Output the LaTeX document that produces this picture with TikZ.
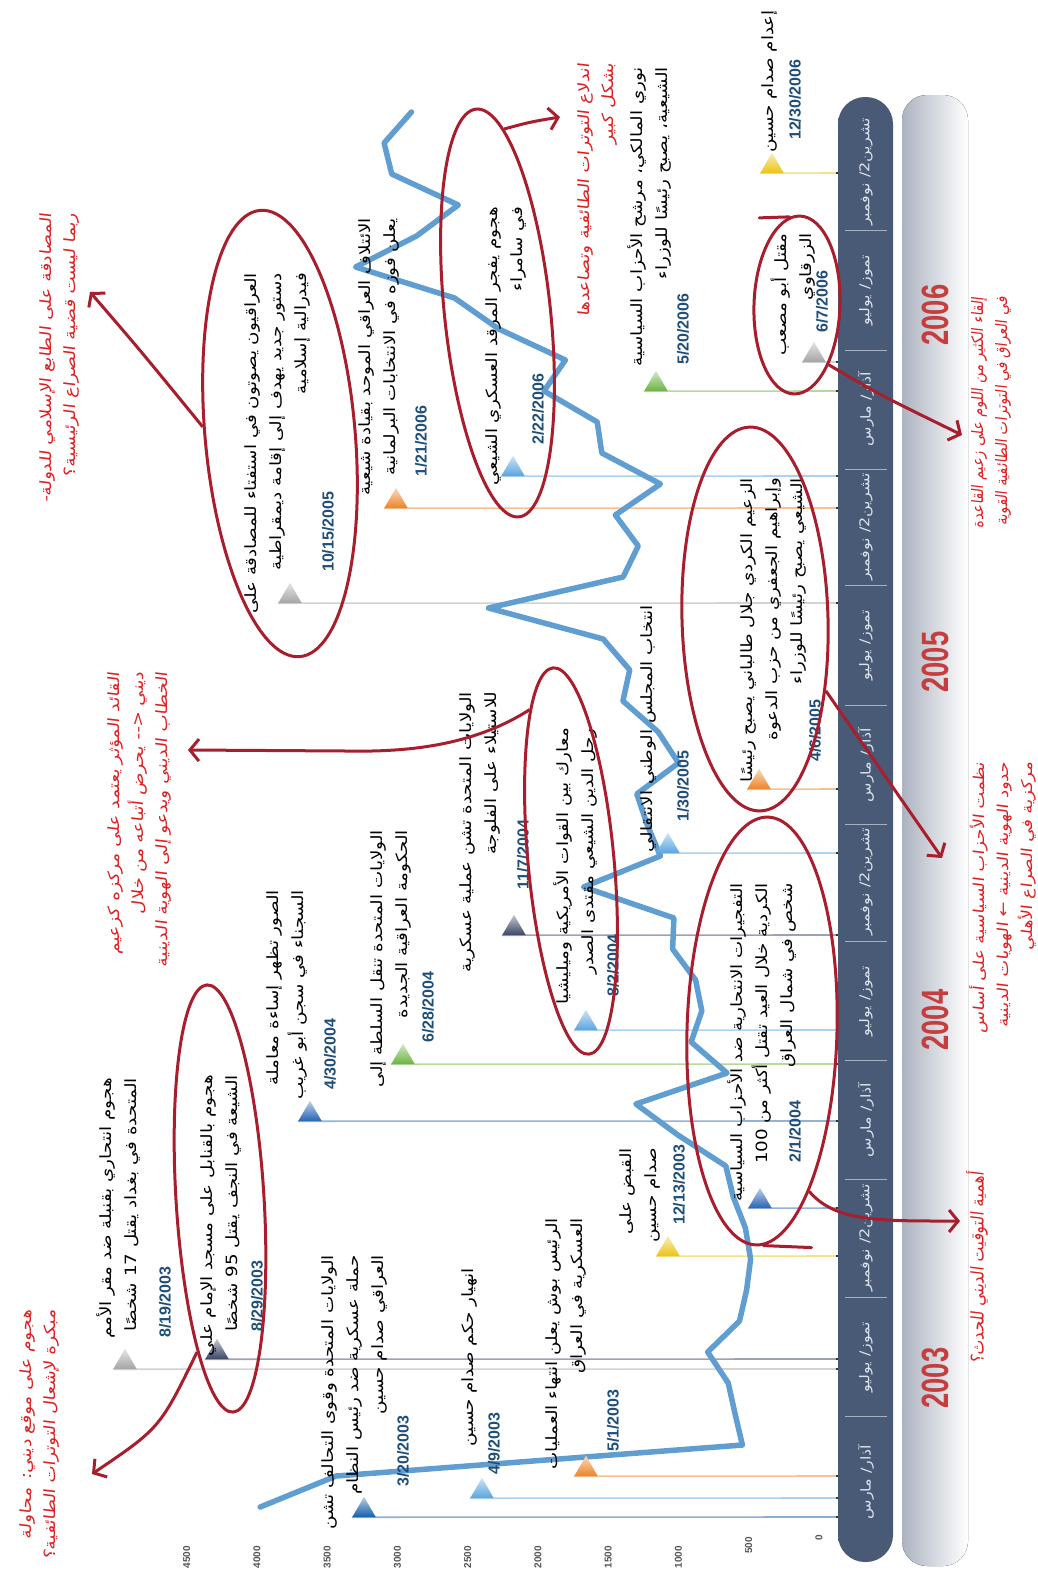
\documentclass[tikz,border=0pt]{standalone}
\usepackage{fontspec}
\setmainfont{Liberation Sans}
\newfontfamily\arf[Script=Arabic,FakeStretch=1.18]{DejaVu Sans}
\newfontfamily\annf[Script=Arabic,FakeSlant=0.12,FakeStretch=1.18]{DejaVu Sans}
\newfontfamily\annfc[Script=Arabic,FakeSlant=0.12,FakeStretch=0.9]{DejaVu Sans}
\newfontfamily\yrf[FakeStretch=0.72]{Liberation Sans}
\usetikzlibrary{shapes.geometric,arrows.meta}
\TeXXeTstate=1
\newcommand\RL[1]{\beginR #1\endR}
\pgfdeclarelayer{bg}\pgfdeclarelayer{mid}\pgfsetlayers{bg,mid,main}
\definecolor{barD}{RGB}{72,90,118}
\definecolor{barM}{RGB}{92,112,141}
\definecolor{shadL}{RGB}{172,179,192}
\definecolor{monc}{RGB}{222,228,238}
\definecolor{datec}{RGB}{31,78,121}
\definecolor{ellc}{RGB}{168,30,45}
\definecolor{annc}{RGB}{222,32,32}
\definecolor{yrc}{RGB}{196,62,62}
\definecolor{axc}{RGB}{85,85,85}
\definecolor{linec}{RGB}{96,158,210}
\definecolor{cDark}{RGB}{20,95,170}
\definecolor{cLight}{RGB}{90,165,222}
\definecolor{cBlue}{RGB}{40,100,180}
\definecolor{cOr}{RGB}{236,132,40}
\definecolor{cGr}{RGB}{165,165,165}
\definecolor{cNavy}{RGB}{60,70,102}
\definecolor{cYel}{RGB}{236,196,20}
\definecolor{cGreen}{RGB}{105,180,65}
\begin{document}
\begin{tikzpicture}[x=1pt,y=-1pt,
 lab/.style={rotate=90, anchor=east, align=right, inner sep=0pt, font=\fontsize{15.5}{25}\arf},
 dt/.style={rotate=90, anchor=west, inner sep=0pt, text=datec, font=\fontsize{16}{16}\selectfont\bfseries},
 ann/.style={rotate=90, anchor=east, align=right, inner sep=0pt, text=annc, font=\fontsize{#1}{24}\annf},
 ann/.default=15.5,
 annc/.style={rotate=90, anchor=east, align=right, inner sep=0pt, text=annc, font=\fontsize{#1}{24}\annfc},
 mon/.style={rotate=90, inner sep=0pt, text=monc, font=\fontsize{13.5}{13.5}\arf},
 yr/.style={rotate=90, inner sep=0pt, text=yrc, font=\fontsize{38}{38}\yrf\bfseries},
 ax/.style={rotate=90, anchor=east, inner sep=0pt, text=axc, font=\fontsize{10}{10}\selectfont\bfseries},
 tri/.style={regular polygon, regular polygon sides=3, minimum size=27pt, inner sep=0pt, draw=none, top color=#1!30!white, bottom color=#1},
 evl/.style={draw=#1!50!white, line width=1.6pt},
 ell/.style={ellipse, draw=ellc, line width=3pt, inner sep=0pt},
 rarr/.style={draw=ellc, line width=3pt, -{Straight Barb[length=9pt,width=22pt]}},
 tail/.style={draw=ellc, line width=3pt, line cap=round},
 barsep/.style={draw=barM!55!white, line width=0.8pt},
 dataline/.style={draw=linec, line width=5.5pt, line join=round, line cap=round}]
\useasboundingbox (0,0) rectangle (1038,1579);
\begin{pgfonlayer}{bg}
\fill[white] (0,0) rectangle (1038,1579);
\end{pgfonlayer}

% ---------- timeline bar ----------
\fill[left color=shadL, right color=white, rounded corners=25pt] (902,95) rectangle (968,1566);
\node[rounded corners=27pt, minimum width=55pt, minimum height=1465pt, inner sep=0pt,
      left color=barD, middle color=barM, right color=barD] (bar) at (865.5,829.5) {};
\foreach \s in {1416.8,1297.1,1179.3,1060.6,940.9,824.1,705.3,585.6,468.9,350.1,230.4}
  \draw[barsep] (845,\s) -- (887,\s);
\node[mon] (mon1) at (866,1482) {\RL{آذار/ مارس}};
\node[mon] (mon2) at (866,1357) {\RL{تموز/ يوليو}};
\node[mon] (mon3) at (866,1238) {\RL{تشرين2/ نوفمبر}};
\node[mon] (mon4) at (866,1120) {\RL{آذار/ مارس}};
\node[mon] (mon5) at (866,1001) {\RL{تموز/ يوليو}};
\node[mon] (mon6) at (866,882) {\RL{تشرين2/ نوفمبر}};
\node[mon] (mon7) at (866,765) {\RL{آذار/ مارس}};
\node[mon] (mon8) at (866,645) {\RL{تموز/ يوليو}};
\node[mon] (mon9) at (866,527) {\RL{تشرين2/ نوفمبر}};
\node[mon] (mon10) at (866,409) {\RL{آذار/ مارس}};
\node[mon] (mon11) at (866,290) {\RL{تموز/ يوليو}};
\node[mon] (mon12) at (866,172) {\RL{تشرين2/ نوفمبر}};
\node[yr] (y2003) at (935,1378) {2003};
\node[yr] (y2004) at (935,1020) {2004};
\node[yr] (y2005) at (935,662) {2005};
\node[yr] (y2006) at (935,315) {2006};

% ---------- value axis ----------
\foreach \v/\yy in {0/1535,500/1537,1000/1546,1500/1546,2000/1546,2500/1546,3000/1546,3500/1546,4000/1546,4500/1546}
  \node[ax] (ax\v) at ({819-0.1405*\v},\yy) {\v};

% ---------- data line ----------
\begin{pgfonlayer}{mid}
\draw[dataline] (260.2,1507) -- (336.1,1476) -- (742.4,1445) -- (735.1,1414) -- (728.2,1383)
 -- (707.7,1352) -- (739.5,1321) -- (746.6,1290) -- (750.6,1259) -- (745.4,1228)
 -- (733.3,1197) -- (725.8,1166) -- (677.9,1135) -- (635.9,1104) -- (727.0,1073)
 -- (691.1,1042) -- (701.8,1011) -- (695.6,980) -- (672.6,949) -- (673.9,918)
 -- (583.5,887) -- (660.4,856) -- (647.3,825) -- (636.8,794) -- (678.5,763)
 -- (658.3,732) -- (622.9,701) -- (629.7,670) -- (603.2,639) -- (488.5,608)
 -- (623.1,577) -- (638.2,546) -- (615.3,515) -- (660.4,484) -- (601.8,453)
 -- (597.2,422) -- (544.0,391) -- (565.4,360) -- (498.8,329) -- (454.5,298)
 -- (355.6,267) -- (416.5,236) -- (458.3,205) -- (391.7,174) -- (384.1,143) -- (411.5,112);
\end{pgfonlayer}

% ---------- events: markers ----------
\node[tri=cDark]  (t1)  at (364,1510.25) {};
\node[tri=cLight] (t2)  at (482,1491.25) {};
\node[tri=cOr]    (t3)  at (586,1469.25) {};
\node[tri=cGr]    (t4)  at (125,1362.25) {};
\node[tri=cNavy]  (t5)  at (217,1352.25) {};
\node[tri=cYel]   (t6)  at (668,1249.25) {};
\node[tri=cBlue]  (t7)  at (760,1201.25) {};
\node[tri=cBlue]  (t8)  at (310,1114.25) {};
\node[tri=cGreen] (t9)  at (403,1057.25) {};
\node[tri=cLight] (t10) at (586,1023.25) {};
\node[tri=cNavy]  (t11) at (514,928.25) {};
\node[tri=cLight] (t12) at (668,846.25) {};
\node[tri=cOr]    (t13) at (759,782.25) {};
\node[tri=cGr]    (t14) at (290,596.25) {};
\node[tri=cOr]    (t15) at (396,501.25) {};
\node[tri=cLight] (t16) at (513,469.25) {};
\node[tri=cGreen] (t17) at (656,384.25) {};
\node[tri=cGr]    (t18) at (814,355.25) {};
\node[tri=cYel]   (t19) at (772,166.25) {};
\foreach \i/\yy in {1/1517,2/1498,3/1476,4/1369,5/1359,6/1256,7/1208,8/1121,9/1064,10/1030,
  11/935,12/853,13/789,14/603,15/508,16/476,17/391,18/362,19/173}
  \coordinate (b\i) at (838,\yy);
\begin{pgfonlayer}{bg}
\draw[evl=cDark] (t1.corner 2) -- (b1);
\draw[evl=cLight] (t2.corner 2) -- (b2);
\draw[evl=cOr] (t3.corner 2) -- (b3);
\draw[evl=cGr] (t4.corner 2) -- (b4);
\draw[evl=cNavy] (t5.corner 2) -- (b5);
\draw[evl=cYel] (t6.corner 2) -- (b6);
\draw[evl=cBlue] (t7.corner 2) -- (b7);
\draw[evl=cBlue] (t8.corner 2) -- (b8);
\draw[evl=cGreen] (t9.corner 2) -- (b9);
\draw[evl=cLight] (t10.corner 2) -- (b10);
\draw[evl=cNavy] (t11.corner 2) -- (b11);
\draw[evl=cLight] (t12.corner 2) -- (b12);
\draw[evl=cOr] (t13.corner 2) -- (b13);
\draw[evl=cGr] (t14.corner 2) -- (b14);
\draw[evl=cOr] (t15.corner 2) -- (b15);
\draw[evl=cLight] (t16.corner 2) -- (b16);
\draw[evl=cGreen] (t17.corner 2) -- (b17);
\draw[evl=cGr] (t18.corner 2) -- (b18);
\draw[evl=cYel] (t19.corner 2) -- (b19);
\foreach \i in {1,...,19} \fill[black!80] (b\i) ++(-2.5,-1) rectangle ++(3,2);
\end{pgfonlayer}

% ---------- events: texts ----------
\node[lab] (l1) at (354,1255) {\RL{الولايات المتحدة وقوى التحالف تشن}\\\RL{حملة عسكرية ضد رئيس النظام}\\\RL{العراقي صدام حسين}};
\node[dt] (d1) at (403,1487) {3/20/2003};
\node[lab] (l2) at (469,1268) {\RL{انهيار حكم صدام حسين}};
\node[dt] (d2) at (494,1475) {4/9/2003};
\node[lab] (l3) at (566,1218) {\RL{الرئيس بوش يعلن انتهاء العمليات}\\\RL{العسكرية في العراق}};
\node[dt] (d3) at (613,1452) {5/1/2003};
\node[lab] (l4) at (118,1078) {\RL{هجوم انتحاري بقنبلة ضد مقر الأمم}\\\RL{المتحدة في بغداد يقتل 17 شخصًا}};
\node[dt] (d4) at (165,1338) {8/19/2003};
\node[lab] (l5) at (221,1075) {\RL{هجوم بالقنابل على مسجد الإمام علي}\\\RL{الشيعة في النجف يقتل 95 شخصًا}};
\node[dt] (d5) at (257,1332) {8/29/2003};
\node[lab] (l6) at (640,1148) {\RL{القبض على}\\\RL{صدام حسين}};
\node[dt] (d6) at (679,1225) {12/13/2003};
\node[lab] (l7) at (762,883) {\RL{التفجيرات الانتحارية ضد الأحزاب السياسية}\\\RL{الكردية خلال العيد تقتل أكثر من 100}\\\RL{شخص في شمال العراق}};
\node[dt] (d7) at (795,1163) {2/1/2004};
\node[lab] (l8) at (287,890) {\RL{الصور تظهر إساءة معاملة}\\\RL{السجناء في سجن أبو غريب}};
\node[dt] (d8) at (330,1090) {4/30/2004};
\node[lab] (l9) at (391,830) {\RL{الولايات المتحدة تنقل السلطة إلى}\\\RL{الحكومة العراقية الجديدة}};
\node[dt] (d9) at (428,1043) {6/28/2004};
\node[lab] (l10) at (575,728) {\RL{معارك بين القوات الأمريكية وميليشيا}\\\RL{رجل الدين الشيعي مقتدى الصدر}};
\node[dt] (d10) at (613,997) {8/2/2004};
\node[lab] (l11) at (480,692) {\RL{الولايات المتحدة تشن عملية عسكرية}\\\RL{للاستيلاء على الفلوجة}};
\node[dt] (d11) at (523,890) {11/7/2004};
\node[lab] (l12) at (648,605) {\RL{انتخاب المجلس الوطني الانتقالي}};
\node[dt] (d12) at (683,822) {1/30/2005};
\node[lab] (l13) at (773,478) {\RL{الزعيم الكردي جلال طالباني يصبح رئيسًا}\\\RL{وإبراهيم الجعفري من حزب الدعوة}\\\RL{الشيعي يصبح رئيسًا للوزراء}};
\node[dt] (d13) at (815,762) {4/6/2005};
\node[lab] (l14) at (277,273) {\RL{العراقيون يصوتون في استفتاء للمصادقة على}\\\RL{دستور جديد يهدف إلى إقامة ديمقراطية}\\\RL{فيدرالية إسلامية}};
\node[dt] (d14) at (328,572) {10/15/2005};
\node[lab] (l15) at (379,218) {\RL{الائتلاف العراقي الموحد بقيادة شيعية}\\\RL{يعلن فوزه في الانتخابات البرلمانية}};
\node[dt] (d15) at (421,477) {1/21/2006};
\node[lab] (l16) at (506,207) {\RL{هجوم يفجر المرقد العسكري الشيعي}\\\RL{في سامراء}};
\node[dt] (d16) at (538,445) {2/22/2006};
\node[lab] (l17) at (649,67) {\RL{نوري المالكي، مرشح الأحزاب السياسية}\\\RL{الشيعية، يصبح رئيسًا للوزراء}};
\node[dt] (d17) at (683,365) {5/20/2006};
\node[lab] (l18) at (793,233) {\RL{مقتل أبو مصعب}\\\RL{الزرقاوي}};
\node[dt] (d18) at (822,333) {6/7/2006};
\node[lab] (l19) at (769,10) {\RL{إعدام صدام حسين}};
\node[dt] (d19) at (795,140) {12/30/2006};

% ---------- red annotations ----------
\node[ell, minimum width=88pt, minimum height=428pt, rotate=3.5] (ellA) at (220,1198.5) {};
\node[ell, minimum width=150pt, minimum height=428pt, rotate=-1.6] (ellB) at (762,1031) {};
\node[ell, minimum width=86pt, minimum height=388pt, rotate=5.3] (ellC) at (571,861) {};
\node[ell, minimum width=146pt, minimum height=384pt, rotate=1.6] (ellD) at (755,619) {};
\node[ell, minimum width=150pt, minimum height=448pt, rotate=5.1] (ellE) at (280,433.5) {};
\node[ell, minimum width=106pt, minimum height=410pt, rotate=6] (ellF) at (497.5,313) {};
\node[ell, minimum width=86pt, minimum height=178pt, rotate=-2] (ellG) at (797,305) {};
\draw[tail] (ellG.97) -- ++(-30,1);
\draw[tail] (ellB.272) -- ++(48,2);

\node[ann] (aA) at (40,1310) {\RL{هجوم على موقع ديني: محاولة}\\\RL{مبكرة لإشعال التوترات الطائفية؟}};
\node[annc=17.5] (aB) at (977,1172) {\RL{أهمية التوقيت الديني للحدث؟}};
\node[ann] (aC) at (140,672) {\RL{القائد المؤثر يعتمد على مركزه كزعيم}\\\RL{ديني \beginL<-{}-\endL{} يحرض أتباعه من خلال}\\\RL{الخطاب الديني ويدعو إلى الهوية الدينية}};
\node[ann=15] (aD) at (1003,762) {\RL{نظمت الأحزاب السياسية على أساس}\\\RL{حدود الهوية الدينية ← الهويات الدينية}\\\RL{مركزية في الصراع الأهلي}};
\node[ann] (aE) at (60,213) {\RL{المصادقة على الطابع الإسلامي للدولة-}\\\RL{ربما ليست قضية الصراع الرئيسية؟}};
\node[ann] (aF) at (597,63) {\RL{اندلاع التوترات الطائفية وتصاعدها}\\\RL{بشكل كبير}};
\node[annc=15.8] (aG) at (991,297) {\RL{إلقاء الكثير من اللوم على زعيم القاعدة}\\\RL{في العراق في التوترات الطائفية القوية}};

\coordinate (cA) at (92,1474);
\coordinate (cB) at (960,1221);
\coordinate (cC) at (188,750);
\coordinate (cD) at (942,858);
\coordinate (cE) at (90,292);
\coordinate (cF) at (560,117);
\coordinate (cG) at (962,435);
\draw[rarr] (ellA.258) .. controls (160,1428) .. (cA);
\draw[rarr] (ellB.288) .. controls (835,1222) and (880,1221) .. (cB);
\draw[rarr] (ellC.100) .. controls (470,748) and (400,752) .. (346,751) -- (cC);
\draw[rarr] (ellD.313) -- (cD);
\draw[rarr] (ellE.170) .. controls (140,350) .. (cE);
\draw[rarr] (ellF.82) .. controls (530,122) .. (cF);
\draw[rarr] (ellG.300) .. controls (880,395) .. (cG);
\end{tikzpicture}
\end{document}
